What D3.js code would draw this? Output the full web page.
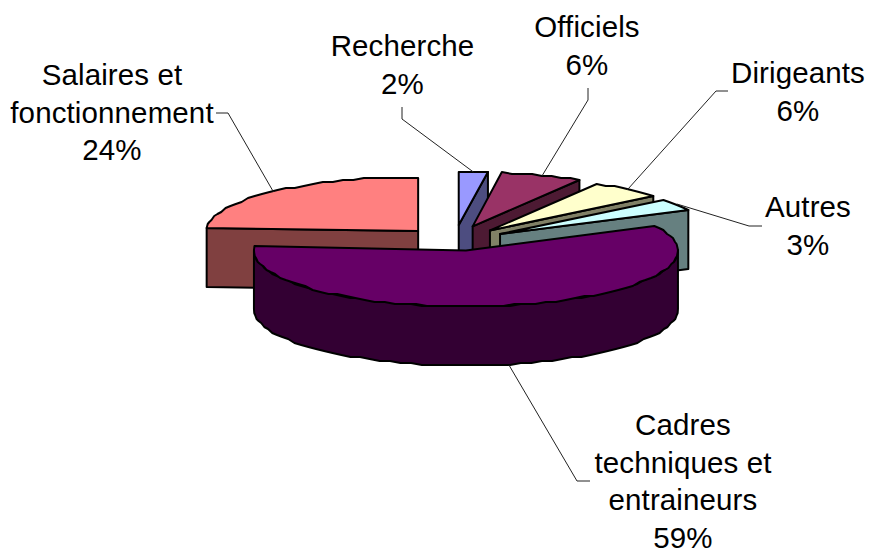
<!DOCTYPE html>
<html>
<head>
<meta charset="utf-8">
<script src="https://cdn.jsdelivr.net/npm/d3@7"></script>
<style>
  html, body { margin: 0; background: #fff; }
  svg { display: block; }
  text { font-family: "Liberation Sans", Arial, sans-serif; font-size: 29.5px; letter-spacing: 0.12px; fill: #000; text-anchor: middle; }
</style>
</head>
<body>
<svg id="chart" width="869" height="548"></svg>
<script>
const categories = ["Recherche", "Officiels", "Dirigeants", "Autres", "Cadres techniques et entraineurs", "Salaires et fonctionnement"]
// the labels show them rounded
const shares = [2.2, 6.2, 5.6, 3.4, 58.7, 23.9]
const topColours = ["#9999FF", "#993366", "#FFFFCC", "#CCFFFF", "#660066", "#FF8080"]
const sideColours = ["#4D4D80", "#4D1A33", "#808066", "#668080", "#330033", "#804040"]
// the wrapped label lines, same order as categories
const labelLines = [["Recherche"], ["Officiels"], ["Dirigeants"], ["Autres"], ["Cadres", "techniques et", "entraineurs"], ["Salaires et", "fonctionnement"]]

// pie geometry
const cx = 455, cy = 238
const rx = 212
const ryBack = 54, ryFront = 56
const explodeX = 54, explodeY = 13
const depth = 59
const lineHeight = 37.5

// label placement: text centre, first baseline, leader start and elbow
const labelPos = [
  { x: 402.5, y: 56, from: [402, 107], elbow: [402, 119] },
  { x: 587, y: 37, from: [588, 88], elbow: [588, 100] },
  { x: 798, y: 83, from: [728, 91], elbow: [716, 91] },
  { x: 808, y: 217, from: [762, 226], elbow: [749, 226] },
  { x: 683, y: 435, from: [590, 481], elbow: [577, 481] },
  { x: 112, y: 85, from: [216, 113], elbow: [228, 113] }
]

const svg = d3.select("#chart")

const pie = d3.pie().sort(null).startAngle(0).endAngle(2 * Math.PI)
const slices = pie(shares).map((d, i) => ({ ...d, i }))

const unitX = d3.scaleLinear().domain([-1, 1]).range([-rx, rx])
const unitY = d3.scaleLinear().domain([-1, 0, 1]).range([ryFront, 0, -ryBack])

function apex(d) {
  const mid = (d.startAngle + d.endAngle) / 2
  const c = Math.cos(mid)
  // squared cosine: the side slices sit lower than a plain ellipse would put them
  return [cx + explodeX * Math.sin(mid), cy - explodeY * Math.sign(c) * c * c]
}

// point on the slice's outer edge; y snapped to a coarse grid, the original curve is stepped
function rimPoint(d, a) {
  const [ax, ay] = apex(d)
  return [ax + unitX(Math.sin(a)), Math.round((ay + unitY(Math.cos(a))) / 2) * 2]
}

function arcPoints(d, a0, a1) {
  const n = Math.max(1, Math.ceil((a1 - a0) / (3 * Math.PI / 180)))
  return d3.range(n + 1).map(k => rimPoint(d, a0 + (a1 - a0) * k / n))
}

const line = d3.line()
const down = p => [p[0], p[1] + depth]

function face(points, fill) {
  svg.append("path")
    .attr("d", line(points) + "Z")
    .attr("fill", fill)
    .attr("stroke", "#000")
    .attr("stroke-width", 2)
    .attr("stroke-linejoin", "round")
}

function drawSlice(d) {
  const a = apex(d)
  const side = sideColours[d.i]
  // cut faces that turn towards the viewer
  if (Math.sin(d.startAngle) < -1e-6) {
    const p = rimPoint(d, d.startAngle)
    face([a, p, down(p), down(a)], side)
  }
  if (Math.sin(d.endAngle) > 1e-6) {
    const p = rimPoint(d, d.endAngle)
    face([a, p, down(p), down(a)], side)
  }
  // front rim
  const a0 = Math.max(d.startAngle, Math.PI / 2)
  const a1 = Math.min(d.endAngle, 3 * Math.PI / 2)
  if (a1 > a0) {
    const rim = arcPoints(d, a0, a1)
    face(rim.concat(rim.slice().reverse().map(down)), side)
  }
  face([a].concat(arcPoints(d, d.startAngle, d.endAngle)), topColours[d.i])
}

// back to front: salaires first, then clockwise, cadres last
const drawOrder = [5, 0, 1, 2, 3, 4]
drawOrder.forEach(i => drawSlice(slices[i]))

// leader lines
slices.forEach(d => {
  const pos = labelPos[d.i]
  const mid = (d.startAngle + d.endAngle) / 2
  let end = rimPoint(d, mid)
  if (Math.cos(mid) < 0) end = down(end)
  svg.append("path")
    .attr("d", line([pos.from, pos.elbow, end]))
    .attr("fill", "none")
    .attr("stroke", "#222")
    .attr("stroke-width", 1)
})

// labels
slices.forEach(d => {
  const pos = labelPos[d.i]
  const rows = labelLines[d.i].concat([Math.round(shares[d.i]) + "%"])
  svg.append("g").selectAll("text").data(rows).join("text")
    .attr("x", pos.x)
    .attr("y", (r, k) => pos.y + k * lineHeight)
    .text(r => r)
})
</script>
</body>
</html>
